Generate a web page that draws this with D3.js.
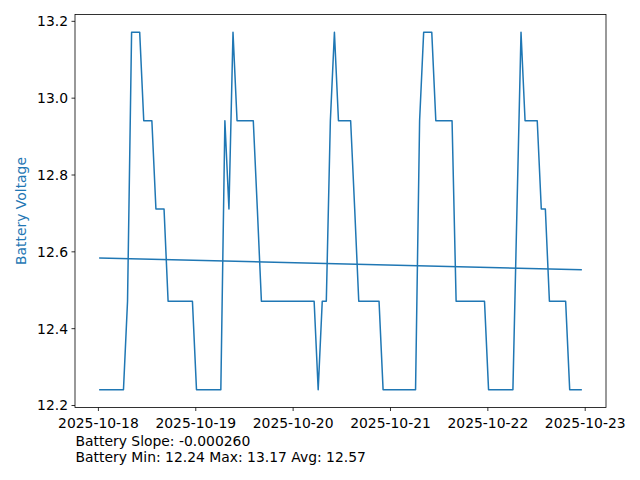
<!DOCTYPE html>
<html>
<head>
<meta charset="utf-8">
<script src="https://cdn.jsdelivr.net/npm/d3@7"></script>
<style>
  html, body { margin: 0; padding: 0; background: #fff; }
  svg { display: block; }
  text { font-family: "DejaVu Sans", sans-serif; }
</style>
</head>
<body>
<svg id="chart" width="640" height="480"></svg>
<script>
// ---- data (hourly readings, first reading at 2025-10-18 00:18 UTC) ----
const startTime = "2025-10-18T00:18:00Z";
const voltages = [
  // 2025-10-18
  12.24,12.24,12.24,12.24,12.24,12.24,12.24,12.47,13.17,13.17,13.17,12.94,
  12.94,12.94,12.71,12.71,12.71,12.47,12.47,12.47,12.47,12.47,12.47,12.47,
  // 2025-10-19
  12.24,12.24,12.24,12.24,12.24,12.24,12.24,12.94,12.71,13.17,12.94,12.94,
  12.94,12.94,12.94,12.71,12.47,12.47,12.47,12.47,12.47,12.47,12.47,12.47,
  // 2025-10-20
  12.47,12.47,12.47,12.47,12.47,12.47,12.24,12.47,12.47,12.94,13.17,12.94,
  12.94,12.94,12.94,12.71,12.47,12.47,12.47,12.47,12.47,12.47,12.24,12.24,
  // 2025-10-21
  12.24,12.24,12.24,12.24,12.24,12.24,12.24,12.94,13.17,13.17,13.17,12.94,
  12.94,12.94,12.94,12.94,12.47,12.47,12.47,12.47,12.47,12.47,12.47,12.47,
  // 2025-10-22
  12.24,12.24,12.24,12.24,12.24,12.24,12.24,12.71,13.17,12.94,12.94,12.94,
  12.94,12.71,12.71,12.47,12.47,12.47,12.47,12.47,12.24,12.24,12.24,12.24
];
const slopePerHour = -0.000260;
const xTickLabels = ["2025-10-18","2025-10-19","2025-10-20","2025-10-21","2025-10-22","2025-10-23"];
const yTickValues = [12.2, 12.4, 12.6, 12.8, 13.0, 13.2];
const yLabel = "Battery Voltage";

// ---- build series ----
const t0 = new Date(startTime);
const series = voltages.map((v, i) => ({ t: new Date(t0.getTime() + i * 3600e3), h: i, v }));
const vMin = d3.min(voltages), vMax = d3.max(voltages), vAvg = d3.mean(voltages);
const hMean = d3.mean(series, d => d.h);
const trend = [series[0], series[series.length - 1]].map(d => ({ t: d.t, v: vAvg + slopePerHour * (d.h - hMean) }));

// ---- layout ----
const L = 75, R = 606, T = 14.5, B = 407.5;
const color = "#1f77b4";
const fs = 13.9;

const tExt = d3.extent(series, d => d.t);
const tPad = (tExt[1] - tExt[0]) * 0.05;
const x = d3.scaleUtc().domain([new Date(+tExt[0] - tPad), new Date(+tExt[1] + tPad)]).range([L, R]);
const vPad = (vMax - vMin) * 0.05;
const y = d3.scaleLinear().domain([vMin - vPad, vMax + vPad]).range([B, T]);

const svg = d3.select("#chart");

// lines
const line = d3.line().x(d => x(d.t)).y(d => y(d.v));
svg.append("path").datum(series).attr("d", line)
  .attr("fill", "none").attr("stroke", color).attr("stroke-width", 1.5)
  .attr("stroke-linejoin", "round");
svg.append("path").datum(trend).attr("d", line)
  .attr("fill", "none").attr("stroke", color).attr("stroke-width", 1.5);

// axes
const xTicks = xTickLabels.map(s => new Date(s + "T00:00:00Z"));
const xAxis = d3.axisBottom(x).tickValues(xTicks).tickFormat(d3.utcFormat("%Y-%m-%d"))
  .tickSize(3.5).tickPadding(3.5).tickSizeOuter(0);
const yAxis = d3.axisLeft(y).tickValues(yTickValues).tickFormat(d3.format(".1f"))
  .tickSize(3.5).tickPadding(3.5).tickSizeOuter(0);

const gx = svg.append("g").attr("transform", `translate(0,${B})`).call(xAxis);
const gy = svg.append("g").attr("transform", `translate(${L},0)`).call(yAxis);
[gx, gy].forEach(g => {
  g.select(".domain").remove();
  g.selectAll(".tick line").attr("stroke", "#000").attr("stroke-width", 0.8);
  g.selectAll(".tick text").attr("fill", "#000").style("font-size", fs + "px")
    .style("font-family", "'DejaVu Sans', sans-serif");
});
gx.selectAll(".tick text").attr("dy", null).attr("y", 20.5);
gy.selectAll(".tick text").attr("dy", "0.35em");

// frame
svg.append("rect").attr("x", L).attr("y", T).attr("width", R - L).attr("height", B - T)
  .attr("fill", "none").attr("stroke", "#000").attr("stroke-width", 0.8);

// y label
svg.append("text").attr("transform", `translate(${26},${(T + B) / 2}) rotate(-90)`)
  .attr("text-anchor", "middle").attr("fill", color).style("font-size", fs + "px")
  .text(yLabel);

// footer text
svg.append("text").attr("x", 75.5).attr("y", 446).attr("fill", "#000").style("font-size", fs + "px")
  .text(`Battery Slope: ${slopePerHour.toFixed(6)}`);
svg.append("text").attr("x", 75.5).attr("y", 462).attr("fill", "#000").style("font-size", fs + "px")
  .text(`Battery Min: ${vMin.toFixed(2)} Max: ${vMax.toFixed(2)} Avg: ${vAvg.toFixed(2)}`);
</script>
</body>
</html>
